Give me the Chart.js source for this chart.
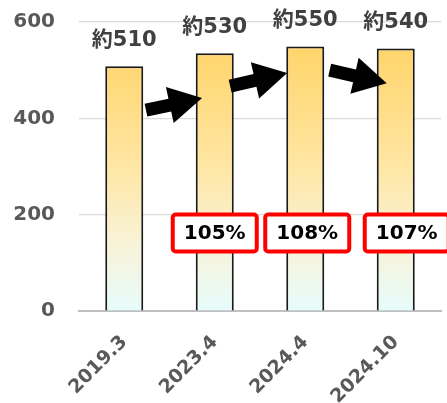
<!DOCTYPE html>
<html>
<head>
<meta charset="utf-8">
<script src="https://cdn.jsdelivr.net/npm/chart.js@4"></script>
<style>
  html, body { margin: 0; padding: 0; background: #fff; }
  #wrap { width: 447px; height: 403px; position: relative; }
</style>
</head>
<body>
<div id="wrap"><canvas id="chart"></canvas></div>
<script>
const categories = ['2019.3', '2023.4', '2024.4', '2024.10'];
const values = [508, 535, 549, 545];
const valueLabels = ['約510', '約530', '約550', '約540'];
const ratioLabels = ['', '105%', '108%', '107%'];
const yTicks = [0, 200, 400, 600];

const FONT = '"DejaVu Sans", "Noto Sans CJK JP", sans-serif';

// gradient fill for the bars, yellow on top to pale cyan at the base
function barFill(context) {
  const chart = context.chart;
  const area = chart.chartArea;
  if (!area) return '#FFD46A';
  const y = chart.scales.y;
  const g = chart.ctx.createLinearGradient(0, y.getPixelForValue(550), 0, area.bottom);
  g.addColorStop(0, '#FFD46A');
  g.addColorStop(0.45, '#FFE6A3');
  g.addColorStop(0.75, '#F8F3D8');
  g.addColorStop(1, '#E6FCFC');
  return g;
}

function drawArrow(ctx, x1, y1, x2, y2) {
  const ang = Math.atan2(y2 - y1, x2 - x1);
  const len = Math.hypot(x2 - x1, y2 - y1);
  const shaft = 6.5, head = 18.5, headLen = 33;
  ctx.save();
  ctx.translate(x1, y1);
  ctx.rotate(ang);
  ctx.beginPath();
  ctx.moveTo(0, -shaft);
  ctx.lineTo(len - headLen, -shaft);
  ctx.lineTo(len - headLen, -head);
  ctx.lineTo(len, 0);
  ctx.lineTo(len - headLen, head);
  ctx.lineTo(len - headLen, shaft);
  ctx.lineTo(0, shaft);
  ctx.closePath();
  ctx.fillStyle = '#000';
  ctx.fill();
  ctx.restore();
}

function roundRect(ctx, x, y, w, h, r) {
  ctx.beginPath();
  ctx.moveTo(x + r, y);
  ctx.arcTo(x + w, y, x + w, y + h, r);
  ctx.arcTo(x + w, y + h, x, y + h, r);
  ctx.arcTo(x, y + h, x, y, r);
  ctx.arcTo(x, y, x + w, y, r);
  ctx.closePath();
}

const overlay = {
  id: 'overlay',
  afterDatasetsDraw(chart) {
    const ctx = chart.ctx;
    const xs = chart.scales.x, ys = chart.scales.y;
    const bars = chart.getDatasetMeta(0).data;
    const step = xs.getPixelForValue(1) - xs.getPixelForValue(0);

    // value labels above bars
    ctx.save();
    ctx.font = 'bold 21px ' + FONT;
    ctx.fillStyle = '#404040';
    ctx.textAlign = 'center';
    ctx.textBaseline = 'middle';
    bars.forEach((b, i) => ctx.fillText(valueLabels[i], b.x, b.y - 26));
    ctx.restore();

    // arrows between bars (data units: category index, value)
    const arrows = [[0.24, 417, 0.86, 442], [1.17, 467, 1.80, 494], [2.27, 500, 2.90, 473]];
    arrows.forEach(a => {
      const px = v => xs.getPixelForValue(0) + v * step;
      drawArrow(ctx, px(a[0]), ys.getPixelForValue(a[1]), px(a[2]), ys.getPixelForValue(a[3]));
    });

    // ratio boxes
    ctx.save();
    ctx.font = 'bold 20px ' + FONT;
    ctx.textAlign = 'center';
    ctx.textBaseline = 'middle';
    const shift = [0, 0, 2, 11];
    bars.forEach((b, i) => {
      if (!ratioLabels[i]) return;
      const cx = b.x + shift[i];
      const cy = ys.getPixelForValue(162);
      const w = 84, h = 37;
      roundRect(ctx, cx - w / 2, cy - h / 2, w, h, 3);
      ctx.fillStyle = '#fff';
      ctx.fill();
      ctx.lineWidth = 4;
      ctx.strokeStyle = '#FF0000';
      ctx.stroke();
      ctx.fillStyle = '#000';
      ctx.fillText(ratioLabels[i], cx, cy + 1);
    });
    ctx.restore();
  }
};

new Chart(document.getElementById('chart'), {
  type: 'bar',
  data: {
    labels: categories,
    datasets: [{
      data: values,
      backgroundColor: barFill,
      borderColor: '#1a1a1a',
      borderWidth: 2,
      barPercentage: 0.42,
      categoryPercentage: 1
    }]
  },
  options: {
    responsive: true,
    maintainAspectRatio: false,
    animation: false,
    layout: { padding: { top: 22, right: 6, left: 0, bottom: 0 } },
    plugins: { legend: { display: false }, tooltip: { enabled: false } },
    scales: {
      x: {
        grid: { display: false },
        border: { display: true, color: '#BFBFBF', width: 2 },
        ticks: {
          color: '#595959',
          font: { family: FONT, size: 19, weight: 'bold' },
          minRotation: 45,
          maxRotation: 45,
          padding: 12
        },
        afterFit(scale) { scale.height = 92; }
      },
      y: {
        min: 0,
        max: 600,
        afterBuildTicks(scale) { scale.ticks = yTicks.map(v => ({ value: v })); },
        grid: { color: '#D9D9D9', lineWidth: 1.2, drawTicks: true, tickLength: 24, tickColor: 'rgba(0,0,0,0)' },
        border: { display: false },
        ticks: {
          color: '#595959',
          font: { family: FONT, size: 20, weight: 'bold' },
          padding: 0
        },
        afterFit(scale) { scale.width = 79; }
      }
    }
  },
  plugins: [overlay]
});
</script>
</body>
</html>
